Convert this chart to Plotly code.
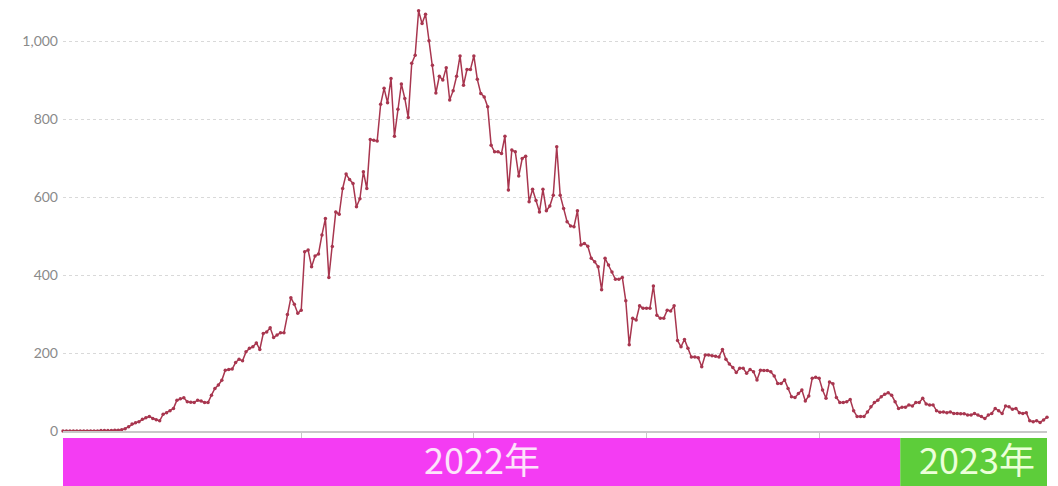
import plotly.graph_objects as go
import pandas as pd

# ---------------- data ----------------
start_date = "2022-05-03"

values_2022 = [
    0, 0, 0, 0, 0, 0, 0, 0, 0, 0, 0, 1, 1, 1, 1, 2, 2, 3, 6, 11,
    18, 21, 24, 30, 34, 37, 32, 29, 26, 43, 47, 52, 58, 79, 83, 85, 75, 74, 73, 79,
    77, 73, 73, 92, 109, 118, 130, 156, 158, 159, 176, 184, 180, 203, 212, 216, 226, 209, 250, 254,
    265, 240, 246, 252, 252, 299, 342, 325, 302, 310, 460, 464, 421, 449, 454, 503, 545, 394, 473, 562,
    556, 622, 659, 645, 635, 575, 596, 665, 622, 748, 746, 744, 838, 879, 842, 904, 756, 825, 890, 853,
    804, 943, 964, 1078, 1045, 1069, 1001, 938, 867, 910, 900, 932, 849, 873, 910, 962, 887, 927, 927, 962,
    902, 866, 857, 832, 733, 716, 716, 712, 756, 618, 721, 716, 654, 699, 705, 588, 620, 591, 562, 620,
    565, 577, 605, 729, 605, 571, 537, 526, 524, 565, 477, 481, 474, 443, 434, 421, 362, 443, 426, 408,
    389, 389, 394, 334, 221, 289, 285, 321, 315, 315, 315, 372, 297, 289, 289, 310, 308, 321, 232, 216,
    235, 212, 190, 190, 188, 165, 195, 195, 193, 192, 190, 209, 184, 172, 163, 150, 161, 161, 148, 158,
    152, 131, 156, 155, 155, 152, 141, 122, 122, 131, 109, 88, 86, 96, 105, 77, 90, 135, 138, 135,
    105, 84, 126, 121, 86, 73, 73, 75, 81, 52, 37, 37, 37, 49, 62, 73, 79, 88, 94, 98,
    92, 75, 58,
]
values_2023 = [
    61, 61, 67, 64, 73, 73, 84, 69, 67, 67, 52, 48, 49, 47, 49, 45, 45, 44, 44, 41,
    41, 45, 41, 37, 32, 41, 45, 58, 52, 45, 64, 62, 56, 58, 47, 45, 47, 26, 24, 26,
    22, 28, 35,
]

tick_dates = ["2022-07-11", "2022-08-30", "2022-10-19", "2022-12-08", "2023-02-13"]
y_ticks = [0, 200, 400, 600, 800, 1000]
year_labels = ["2022年", "2023年"]
year_bounds = ["2022-05-02 12:00", "2022-12-31 12:00", "2023-02-15"]

values = values_2022 + values_2023
dates = pd.date_range(start_date, periods=len(values), freq="D")

LINE = "#a8364f"

fig = go.Figure()
fig.add_trace(go.Scatter(
    x=dates, y=values, mode="lines+markers",
    line=dict(color=LINE, width=1.5),
    marker=dict(color=LINE, size=3.5),
    cliponaxis=False, hoverinfo="x+y", showlegend=False,
))

# year bands under the axis
band_colors = ["#f43cf3", "#5dcd3a"]
text_colors = ["#fde3fb", "#ecffd9"]
label_pos = [0.426, 0.929]
for k in range(2):
    fig.add_shape(type="rect", xref="x", yref="paper",
                  x0=year_bounds[k], x1=year_bounds[k + 1], y0=-0.135, y1=-0.0165,
                  fillcolor=band_colors[k], line=dict(width=0), layer="above")
    fig.add_annotation(text=year_labels[k], xref="paper", yref="paper",
                       x=label_pos[k], y=-0.1265, showarrow=False,
                       xanchor="center", yanchor="bottom", borderpad=0,
                       font=dict(family="Noto Sans CJK JP", size=36, color=text_colors[k]))

fig.update_layout(
    width=1050, height=478,
    margin=dict(l=55, r=11, t=0, b=55),
    plot_bgcolor="white", paper_bgcolor="white",
    xaxis=dict(
        type="date", range=[dates[0], dates[-1]],
        tickvals=tick_dates, ticktext=[""] * len(tick_dates),
        ticks="outside", ticklen=6, tickcolor="#c8c8c8", tickwidth=1,
        showline=True, linecolor="#c8c8c8", linewidth=2,
        showgrid=False, zeroline=False,
    ),
    yaxis=dict(
        range=[0, 1085], tickvals=y_ticks, tickformat=",",
        showgrid=True, gridcolor="#d9d9d9", griddash="dot", gridwidth=1,
        zeroline=False, showline=False, ticks="",
        tickfont=dict(family="Lato", size=14, color="#8a8a8a"),
        ticklabelstandoff=4,
    ),
)

fig.write_html("out.html")
